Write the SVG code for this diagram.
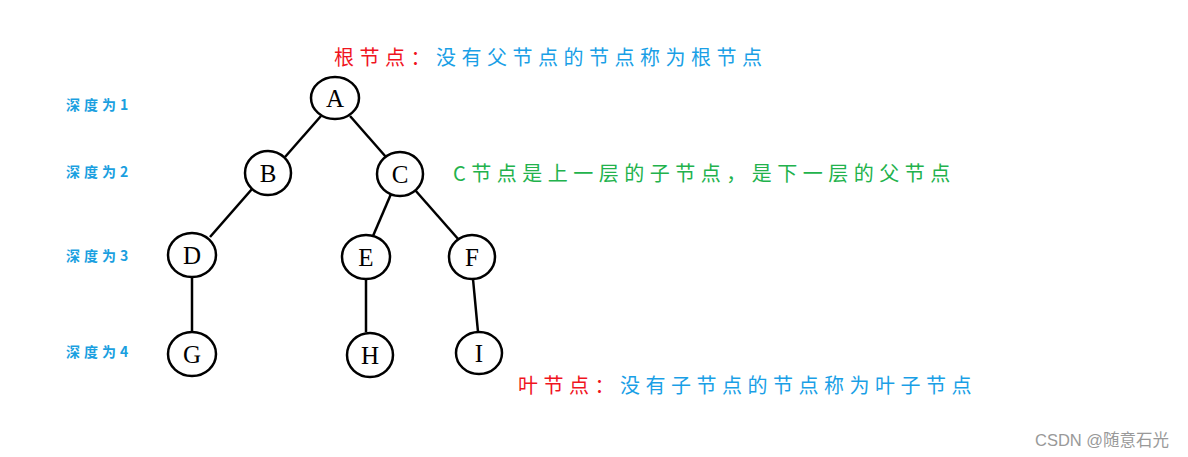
<svg xmlns="http://www.w3.org/2000/svg" width="1188" height="457" viewBox="0 0 1188 457">
<style>
.n ellipse{fill:#fff;stroke:#000;stroke-width:2.5}
.n text{font-family:"Liberation Serif",serif;font-size:25px;text-anchor:middle;fill:#000}
.e line{stroke:#000;stroke-width:2.5}
.cn{font-family:"Noto Sans CJK SC",sans-serif;font-size:20px;letter-spacing:5.5px}
.dep{font-family:"Noto Sans CJK SC",sans-serif;font-size:14px;letter-spacing:4px;fill:#1a9fe0;font-weight:bold}
.red{fill:#f0141e}.blue{fill:#1a9fe6}.green{fill:#22b24c}
</style>
<rect width="1188" height="457" fill="#fff"/>
<g id="connectors" class="e">
<line x1="321" y1="116" x2="285" y2="157"/>
<line x1="350" y1="116" x2="386" y2="157"/>
<line x1="252" y1="189" x2="210" y2="237"/>
<line x1="391" y1="194" x2="373" y2="236"/>
<line x1="415" y1="190" x2="459" y2="240"/>
<line x1="192" y1="277" x2="192" y2="331"/>
<line x1="366" y1="279" x2="366" y2="332"/>
<line x1="473" y1="279" x2="478" y2="332"/>
</g>
<g id="A" class="n"><ellipse cx="335" cy="98" rx="24" ry="21"/><text x="335" y="107">A</text></g>
<g id="B" class="n"><ellipse cx="268" cy="173" rx="23" ry="22"/><text x="268" y="182">B</text></g>
<g id="C" class="n"><ellipse cx="400" cy="174" rx="23" ry="22"/><text x="400" y="183">C</text></g>
<g id="D" class="n"><ellipse cx="192" cy="255" rx="24" ry="22"/><text x="192" y="264">D</text></g>
<g id="E" class="n"><ellipse cx="366" cy="257" rx="24" ry="22"/><text x="366" y="266">E</text></g>
<g id="F" class="n"><ellipse cx="472" cy="257" rx="23" ry="22"/><text x="472" y="266">F</text></g>
<g id="G" class="n"><ellipse cx="192" cy="354" rx="24" ry="22"/><text x="192" y="363">G</text></g>
<g id="H" class="n"><ellipse cx="370" cy="355" rx="23" ry="22"/><text x="370" y="364">H</text></g>
<g id="I" class="n"><ellipse cx="479" cy="353" rx="23" ry="21"/><text x="479" y="362">I</text></g>
<text class="cn" x="334" y="65"><tspan class="red">根节点：</tspan><tspan class="blue">没有父节点的节点称为根节点</tspan></text>
<text class="cn green" x="453" y="181">C节点是上一层的子节点，是下一层的父节点</text>
<text class="cn" x="518" y="393"><tspan class="red">叶节点：</tspan><tspan class="blue">没有子节点的节点称为叶子节点</tspan></text>
<text class="dep" x="66" y="110">深度为1</text>
<text class="dep" x="66" y="177">深度为2</text>
<text class="dep" x="66" y="261">深度为3</text>
<text class="dep" x="66" y="357">深度为4</text>
<text x="1035" y="446" font-family="Liberation Sans,Noto Sans CJK SC,sans-serif" font-size="16.5" fill="#999">CSDN @随意石光</text>
</svg>
